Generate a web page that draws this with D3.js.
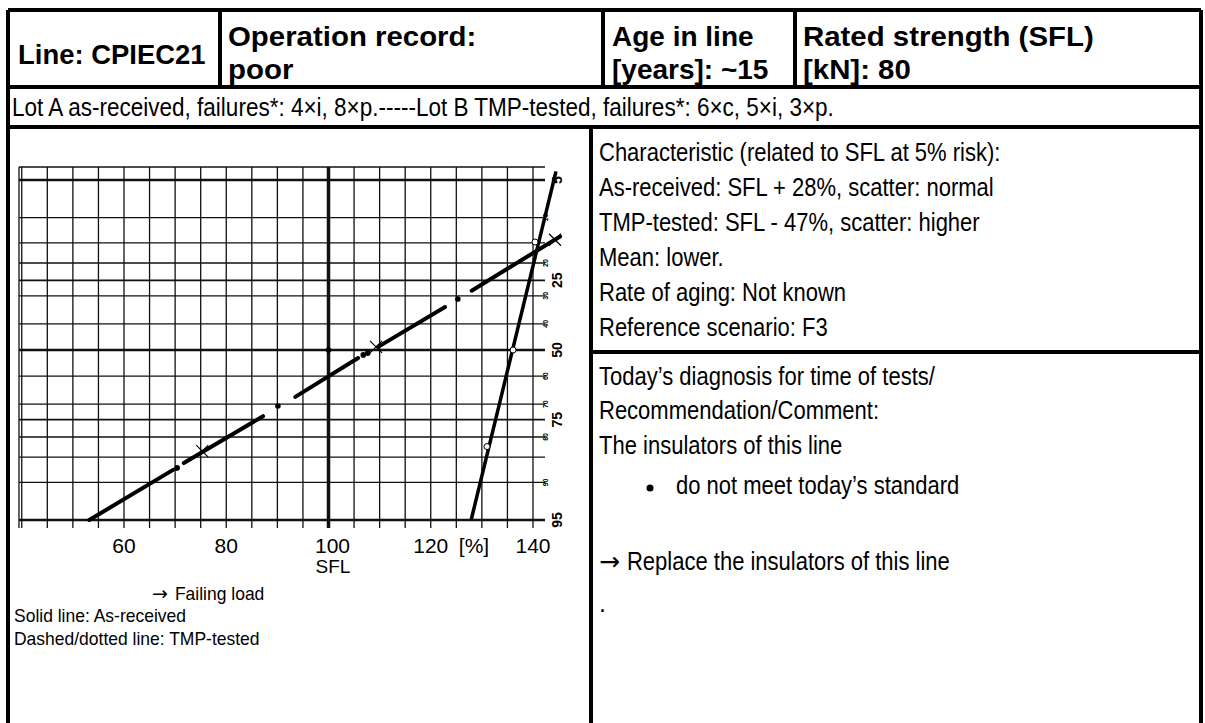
<!DOCTYPE html>
<html>
<head>
<meta charset="utf-8">
<script src="https://d3js.org/d3.v7.min.js"></script>
<style>
  body { margin: 0; background: white; }
  text { fill: black; }
  .hdr { font-family: "Liberation Sans", Arial, sans-serif; font-weight: bold; font-size: 28px; }
  .nar { font-family: "Liberation Sans", Arial, sans-serif; font-size: 25px; }
  .small { font-family: "Liberation Sans", Arial, sans-serif; font-size: 19px; }
  .tick { font-family: "Liberation Sans", Arial, sans-serif; font-size: 21px; }
  .arrow { font-family: "DejaVu Sans", sans-serif; }
</style>
</head>
<body>
<svg id="chart" width="1205" height="723"></svg>
<script>
// ---- data ----
var xTicks = [60, 80, 100, 120, 140];
var loadGrid = [40, 45, 50, 55, 60, 65, 70, 75, 80, 85, 90, 95, 100, 105, 110, 115, 120, 125, 130, 135, 140];
var probGrid = [5, 10, 15, 20, 25, 30, 40, 50, 60, 70, 75, 80, 85, 90, 95];
var probMajor = [5, 25, 50, 75, 95];
var probMinor = [10, 20, 30, 40, 60, 70, 80, 90];

// as-received (solid line): [load %, probability label %]
var asReceivedLine = [[144.5, 4.2], [127.9, 95]];
var asReceivedPts = [[140.4, 14.8], [136.1, 50], [131.0, 82.5]];

// TMP-tested (dashed/dotted)
var tmpSegments = [
  [[53.2, 95], [69.6, 87.7]],
  [[71.7, 86.3], [87.2, 73.9]],
  [[93.5, 67.5], [105.8, 53.1]],
  [[109.7, 48.8], [122.8, 33.9]],
  [[128.0, 28.3], [145.3, 13.6]]
];
var tmpDots = [[70.4, 87.3], [90.1, 70.6], [106.8, 51.9], [107.7, 51.2], [125.3, 31.1]];
var tmpCrosses = [[75.3, 83.6], [109.3, 48.8], [144.3, 14.3]];
var sflPoint = [[100, 50]];

// ---- scales ----
// inverse normal (probit) used by the probability paper axis
function probit(p) {
  var a = [-39.69683028665376, 220.9460984245205, -275.9285104469687, 138.3577518672690, -30.66479806614716, 2.506628277459239];
  var b = [-54.47609879822406, 161.5858368580409, -155.6989798598866, 66.80131188771972, -13.28068155288572];
  var c = [-0.007784894002430293, -0.3223964580411365, -2.400758277161838, -2.549732539343734, 4.374664141464968, 2.938163982698783];
  var d = [0.007784695709041462, 0.3224671290700398, 2.445134137142996, 3.754408661907416];
  var q, r;
  if (p < 0.02425) {
    q = Math.sqrt(-2 * Math.log(p));
    return (((((c[0]*q+c[1])*q+c[2])*q+c[3])*q+c[4])*q+c[5]) / ((((d[0]*q+d[1])*q+d[2])*q+d[3])*q+1);
  } else if (p > 1 - 0.02425) {
    q = Math.sqrt(-2 * Math.log(1 - p));
    return -(((((c[0]*q+c[1])*q+c[2])*q+c[3])*q+c[4])*q+c[5]) / ((((d[0]*q+d[1])*q+d[2])*q+d[3])*q+1);
  }
  q = p - 0.5; r = q * q;
  return (((((a[0]*r+a[1])*r+a[2])*r+a[3])*r+a[4])*r+a[5])*q / (((((b[0]*r+b[1])*r+b[2])*r+b[3])*r+b[4])*r+1);
}

var x = d3.scaleLinear().domain([60, 140]).range([124, 533]);
var yz = d3.scaleLinear().domain([-1.645, 1.645]).range([180, 520]);
var y = function(p) { return yz(probit(p / 100)); };

var plot = { left: 19, right: 545, top: 167, bottom: 528 };

var svg = d3.select("#chart");
svg.append("rect").attr("width", 1205).attr("height", 723).attr("fill", "white");

// ---- grid (graph paper) ----
var grid = svg.append("g");
grid.selectAll(".vl").data(loadGrid).enter().append("line")
  .attr("x1", d => x(d)).attr("x2", d => x(d))
  .attr("y1", plot.top).attr("y2", plot.bottom)
  .attr("stroke", "#111")
  .attr("stroke-width", d => d == 100 ? 3.5 : 1.3);
grid.selectAll(".hl").data(probGrid).enter().append("line")
  .attr("x1", plot.left).attr("x2", plot.right)
  .attr("y1", d => y(d)).attr("y2", d => y(d))
  .attr("stroke", "#111")
  .attr("stroke-width", d => (d == 5 || d == 50 || d == 95) ? 2.6 : (d == 25 || d == 75 ? 1.8 : 1.3));
grid.append("line").attr("x1", plot.left).attr("x2", plot.right)
  .attr("y1", plot.top).attr("y2", plot.top).attr("stroke", "#111").attr("stroke-width", 1.3);
grid.append("line").attr("x1", plot.left).attr("x2", plot.left)
  .attr("y1", plot.top).attr("y2", plot.bottom).attr("stroke", "#111").attr("stroke-width", 1.3);

// probability labels on the right (rotated, like the printed paper)
svg.selectAll(".pmaj").data(probMajor).enter().append("text")
  .attr("transform", d => "translate(562," + y(d) + ") rotate(-90)")
  .attr("text-anchor", "middle")
  .style("font-family", "Liberation Sans, Arial, sans-serif")
  .style("font-weight", "bold").style("font-size", "14px")
  .text(d => d);
svg.selectAll(".pmin").data(probMinor).enter().append("text")
  .attr("transform", d => "translate(548," + y(d) + ") rotate(-90)")
  .attr("text-anchor", "middle")
  .style("font-family", "Liberation Sans, Arial, sans-serif")
  .style("font-weight", "bold").style("font-size", "7px")
  .text(d => d);

// x axis labels
svg.selectAll(".xt").data(xTicks).enter().append("text")
  .attr("class", "tick")
  .attr("x", d => x(d) + (d == 100 ? 4 : 0)).attr("y", 553)
  .attr("text-anchor", "middle")
  .text(d => d);
svg.append("text").attr("class", "tick").attr("x", 474).attr("y", 553)
  .attr("text-anchor", "middle").text("[%]");
svg.append("text").attr("class", "small").attr("x", 333).attr("y", 573)
  .attr("text-anchor", "middle").text("SFL");

// ---- data marks ----
var line = d3.line().x(d => x(d[0])).y(d => y(d[1]));
svg.append("path").datum(asReceivedLine).attr("d", line)
  .attr("fill", "none").attr("stroke", "black").attr("stroke-width", 3.5);
svg.selectAll(".arp").data(asReceivedPts).enter().append("circle")
  .attr("cx", d => x(d[0])).attr("cy", d => y(d[1])).attr("r", 3)
  .attr("fill", "white").attr("stroke", "black").attr("stroke-width", 1);

svg.selectAll(".seg").data(tmpSegments).enter().append("path")
  .attr("d", line).attr("fill", "none").attr("stroke", "black")
  .attr("stroke-width", 4).attr("stroke-linecap", "round");
svg.selectAll(".dot").data(tmpDots.concat(sflPoint)).enter().append("circle")
  .attr("cx", d => x(d[0])).attr("cy", d => y(d[1])).attr("r", 2.8).attr("fill", "black");
svg.selectAll(".cr").data(tmpCrosses).enter().append("path")
  .attr("d", d => {
    var cx = x(d[0]), cy = y(d[1]), s = 6;
    return "M" + (cx - s) + "," + (cy - s) + "L" + (cx + s) + "," + (cy + s) +
           "M" + (cx - s) + "," + (cy + s) + "L" + (cx + s) + "," + (cy - s);
  })
  .attr("stroke", "black").attr("stroke-width", 1.2);

// ---- table frame ----
var frame = svg.append("g").attr("stroke", "black").attr("stroke-width", 4);
var hLines = [[8, 1201, 10], [8, 1201, 87], [8, 1201, 127], [591, 1201, 352]];
var vLines = [[8, 10, 723], [1201, 10, 723], [220, 10, 87], [603, 10, 87], [795, 10, 87], [591, 127, 723]];
hLines.forEach(l => frame.append("line").attr("x1", l[0]).attr("x2", l[1]).attr("y1", l[2]).attr("y2", l[2]));
vLines.forEach(l => frame.append("line").attr("x1", l[0]).attr("x2", l[0]).attr("y1", l[1]).attr("y2", l[2]));

// ---- texts ----
// narrow look: squeeze the natural width by k
function txt(cls, xx, yy, s, k, anchor) {
  var t = svg.append("text").attr("class", cls).attr("x", xx).attr("y", yy)
    .attr("text-anchor", anchor || "start").text(s);
  if (k && k != 1) {
    var w = t.node().getComputedTextLength();
    t.attr("textLength", w * k).attr("lengthAdjust", "spacingAndGlyphs");
  }
  return t;
}
// arrow glyph as its own text, then the words right after it
function arrowTxt(cls, xx, yy, s, k) {
  var a = svg.append("text").attr("class", cls + " arrow").attr("x", xx).attr("y", yy).text("\u2192");
  var aw = a.node().getComputedTextLength();
  return txt(cls, xx + aw + 7, yy, s, k);
}

txt("hdr", 18, 64, "Line: CPIEC21", 0.98);
txt("hdr", 228, 46, "Operation record:", 1.05);
txt("hdr", 228, 79, "poor", 1.05);
txt("hdr", 612, 46, "Age in line", 1.0);
txt("hdr", 612, 79, "[years]: ~15", 1.0);
txt("hdr", 803, 46, "Rated strength (SFL)", 1.05);
txt("hdr", 803, 79, "[kN]: 80", 1.05);
txt("nar", 12, 116, "Lot A as-received, failures*: 4×i, 8×p.-----Lot B TMP-tested, failures*: 6×c, 5×i, 3×p.", 0.9);

var rightTop = ["Characteristic (related to SFL at 5% risk):",
  "As-received: SFL + 28%, scatter: normal",
  "TMP-tested: SFL - 47%, scatter: higher",
  "Mean: lower.",
  "Rate of aging: Not known",
  "Reference scenario: F3"];
rightTop.forEach((s, i) => txt("nar", 599, 161 + i * 35, s, 0.88));

txt("nar", 599, 385, "Today\u2019s diagnosis for time of tests/", 0.88);
txt("nar", 599, 419, "Recommendation/Comment:", 0.88);
txt("nar", 599, 454, "The insulators of this line", 0.88);
svg.append("circle").attr("cx", 650).attr("cy", 488).attr("r", 3.5).attr("fill", "black");
txt("nar", 676, 494, "do not meet today\u2019s standard", 0.88);
arrowTxt("nar", 599, 570, "Replace the insulators of this line", 0.88);
txt("nar", 599, 612, ".", 1);

arrowTxt("small", 152, 600, "Failing load", 0.92);
txt("small", 14, 622, "Solid line: As-received", 0.92);
txt("small", 14, 645, "Dashed/dotted line: TMP-tested", 0.92);
</script>
</body>
</html>
